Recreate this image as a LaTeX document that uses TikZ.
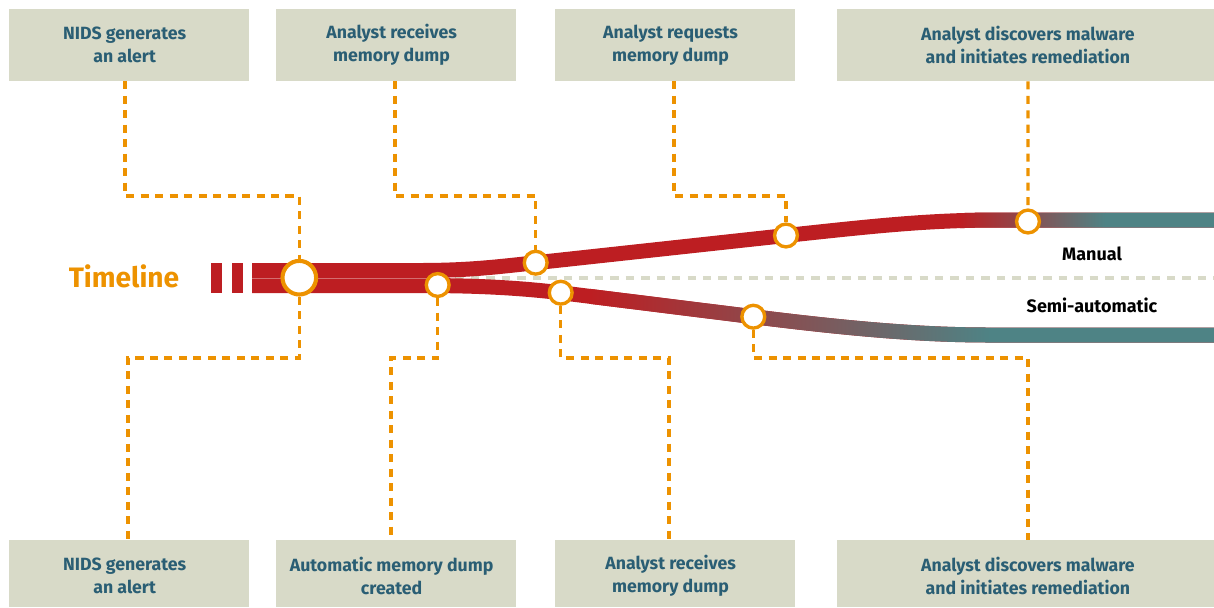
\documentclass[tikz,border=0pt]{standalone}
\usepackage{fontspec}
\setmainfont{Fira Sans}
\usetikzlibrary{positioning, calc}
\definecolor{boxgray}{RGB}{216, 218, 200}
\definecolor{labelteal}{RGB}{42, 94, 116}
\definecolor{dotorange}{RGB}{237, 146, 0}
\definecolor{trackred}{RGB}{189, 30, 34}
\definecolor{trackteal}{RGB}{78, 131, 133}

\begin{document}
\begin{tikzpicture}[
    x=0.025cm, y=-0.025cm,
    evbox/.style={
        rectangle, fill=boxgray, inner sep=0pt,
        minimum width=#1, minimum height=1.8cm,
    },
    evbox/.default=6cm,
    lowbox/.style={evbox=#1, minimum height=1.675cm},
    lowbox/.default=6cm,
    evtext/.style={
        align=center, text=labelteal, xshift=-0.11cm,
        font=\fontsize{12.6}{16}\selectfont\bfseries,
    },
    lowtext/.style={evtext, yshift=-0.06cm},
    evdot/.style={
        circle, draw=dotorange, fill=white,
        line width=2.4pt, minimum size=0.57cm, inner sep=0pt,
    },
    bigdot/.style={evdot, line width=2.9pt, minimum size=0.84cm},
    conn/.style={
        draw=dotorange, line width=2.3pt,
        dash pattern=on 5.7pt off 4.6pt,
    },
    lanesep/.style={
        draw=boxgray, line width=2.8pt,
        dash pattern=on 6pt off 5pt,
    },
    tracklabel/.style={font=\fontsize{12.8}{14}\selectfont\bfseries, text=black},
]
\def\px{0.025cm}
\useasboundingbox (0,0) rectangle (1214,607);

% =============== Track bands ===============
\def\upperband{(252,263) -- (420,263)
    .. controls (470,263) and (500,259) .. (536,255.2)
    -- (786,228)
    .. controls (880,217.8) and (930,212.5) .. (1000,212.5)
    -- (1214,212.5) -- (1214,227.5) -- (1000,227.5)
    .. controls (930,227.5) and (880,232.8) .. (786,243)
    -- (536,270.2)
    .. controls (500,274) and (470,278) .. (420,278)
    -- (252,278) -- cycle}
\def\lowerband{(252,278) -- (420,278)
    .. controls (480,278) and (520,280.5) .. (560.7,285.2)
    -- (753.3,309.2)
    .. controls (850,321.3) and (920,327.5) .. (990,327.5)
    -- (1214,327.5) -- (1214,342.5) -- (990,342.5)
    .. controls (920,342.5) and (850,336.3) .. (753.3,324.2)
    -- (560.7,300.2)
    .. controls (520,295.5) and (480,293) .. (420,293)
    -- (252,293) -- cycle}

% separator between the two modes
\coordinate (sepstart) at (440,277.7);
\coordinate (sepend) at (1214,277.7);
\draw[lanesep] (sepstart) -- (sepend);

% broken start of the timeline
\fill[trackred] (211,263) rectangle (222,293);
\fill[trackred] (232,263) rectangle (243,293);

% Manual track (red fading to teal)
\fill[trackred] \upperband;
\begin{scope}
    \clip \upperband;
    \shade[left color=trackred, right color=trackteal] (960,200) rectangle (1105,240);
    \fill[trackteal] (1105,200) rectangle (1214,240);
\end{scope}

% Semi-automatic track
\fill[trackred] \lowerband;
\begin{scope}
    \clip \lowerband;
    \shade[left color=trackred, right color=trackteal] (590,270) rectangle (990,350);
    \fill[trackteal] (990,270) rectangle (1214,350);
\end{scope}
\draw[trackred!65!white, line width=0.5pt] (252,278) -- (432,278);

% =============== Labels ===============
\node[font=\fontsize{20}{24}\selectfont\bfseries, text=dotorange] (tl) at (124,276) {Timeline};
\node[tracklabel] (manual) at (1092,254) {Manual};
\node[tracklabel] (semi) at (1092,305) {Semi-automatic};

% =============== Event boxes ===============
\node[evbox, label={[evtext]center:NIDS generates\\an alert}] (t1) at (129,45) {};
\node[evbox, label={[evtext]center:Analyst receives\\memory dump}] (t2) at (396,45) {};
\node[evbox, label={[evtext]center:Analyst requests\\memory dump}] (t3) at (675,45) {};
\node[evbox=9.425cm, label={[evtext, xshift=0.17cm]center:Analyst discovers malware\\and initiates remediation}] (t4) at (1025.5,45) {};

\node[lowbox, label={[lowtext]center:NIDS generates\\an alert}] (b1) at (129,573.5) {};
\node[lowbox, label={[lowtext]center:Automatic memory dump\\created}] (b2) at (396,573.5) {};
\node[lowbox, label={[lowtext]center:Analyst receives\\memory dump}] (b3) at (675,573.5) {};
\node[lowbox=9.425cm, label={[lowtext, xshift=0.17cm]center:Analyst discovers malware\\and initiates remediation}] (b4) at (1025.5,573.5) {};

% =============== Event dots ===============
\node[bigdot] (c1) at (299.3,277.7) {};
\node[evdot] (c2) at (437.7,285) {};
\node[evdot] (c3) at (535.7,262.7) {};
\node[evdot] (c4) at (560.7,292.7) {};
\node[evdot] (c5) at (753.3,316.7) {};
\node[evdot] (c6) at (786,235.5) {};
\node[evdot] (c7) at (1028,221.5) {};

% =============== Connectors ===============
\coordinate (uprail) at (0,196);
\coordinate (lowrail) at (0,358);
% manual events
\draw[conn] ([xshift=-4*\px]t1.south) |- (c1.north |- uprail) -- (c1.north);
\draw[conn] ([xshift=-1*\px]t2.south) |- (c3.north |- uprail) -- (c3.north);
\draw[conn] ([xshift=-1*\px]t3.south) |- (c6.north |- uprail) -- (c6.north);
\draw[conn] ([xshift=2.5*\px]t4.south) -- (c7.north);
% semi-automatic events
\draw[conn] (c1.south) -- (c1.south |- lowrail) -| ([xshift=-1*\px]b1.north);
\draw[conn] (c2.south) -- (c2.south |- lowrail) -| ([xshift=-5*\px]b2.north);
\draw[conn] (c4.south) -- (c4.south |- lowrail) -| ([xshift=-6*\px]b3.north);
\draw[conn] (c5.south) -- (c5.south |- lowrail) -| ([xshift=2.5*\px]b4.north);

\end{tikzpicture}
\end{document}
